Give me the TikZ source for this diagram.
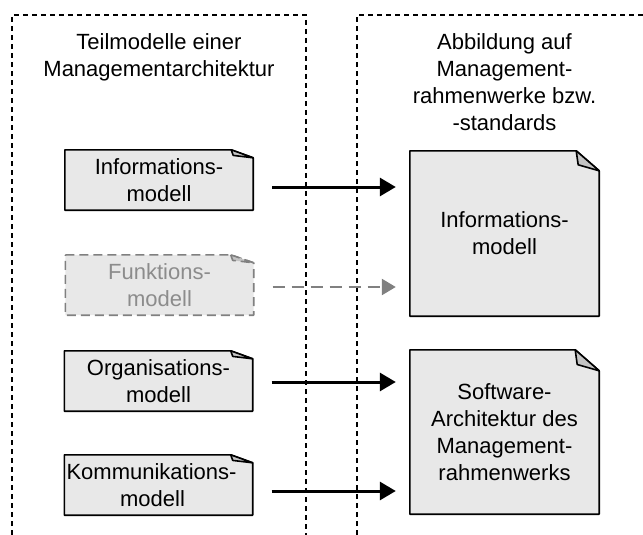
\documentclass[tikz,border=0pt]{standalone}
\usepackage{fontspec}
\setmainfont{Liberation Sans}
\usepackage{xcolor}
\usepackage{tikz}
\usetikzlibrary{arrows.meta,calc}
\definecolor{docfill}{HTML}{E8E8E8}
\definecolor{foldfill}{HTML}{C4C4C4}
\definecolor{faded}{HTML}{808080}
\definecolor{fadedtext}{HTML}{8C8C8C}
\pgfdeclarelayer{background}
\pgfsetlayers{background,main}
\tikzset{
  lane/.style={draw=black, line width=1.2pt, dash pattern=on 5pt off 4pt},
  title/.style={font=\fontsize{22}{27}\selectfont, align=center, inner sep=0pt, anchor=north},
  doc/.style={font=\fontsize{22}{27}\selectfont, align=center, inner sep=0pt},
  small/.style={doc, minimum width=188pt, minimum height=60pt},
  big/.style={doc, minimum width=189pt, minimum height=165pt},
  docline/.style={draw=black, fill=docfill, line width=1.6pt, line join=round},
  ghost/.style={draw=faded, dash pattern=on 9pt off 5pt},
  arr/.style={line width=3pt, -{Triangle[length=16pt,width=18pt]}},
  ghostarr/.style={draw=faded, line width=2.6pt, dash pattern=on 12pt off 7pt,
    -{Triangle[length=14pt,width=16pt]}}
}
% document outline with folded corner, drawn behind the node text
\newcommand{\docframe}[4][]{%
  \begin{pgfonlayer}{background}
    \path[docline,#1] (#2.north west) -- ([xshift=-#3pt]#2.north east)
      -- ([yshift=-#4pt]#2.north east) -- (#2.south east) -- (#2.south west) -- cycle;
    \path[docline,fill=foldfill,#1] ([xshift=-#3pt]#2.north east)
      -- ([xshift={-(#3-2)*1pt},yshift={-0.7*#4*1pt}]#2.north east)
      -- ([yshift=-#4pt]#2.north east) -- cycle;
  \end{pgfonlayer}}

\begin{document}
\begin{tikzpicture}[x=1pt,y=-1pt]
\useasboundingbox (0,0) rectangle (643,535);

% the two columns
\draw[lane] (12,535) -- (12,15) -- (306,15) -- (306,535);
\draw[lane] (357,535) -- (357,15) -- (643,15);

\node[title] (leftT) at (159,33) {Teilmodelle einer\\Managementarchitektur};
\node[title] (rightT) at (504.5,33) {Abbildung auf\\Management-\\rahmenwerke bzw.\\-standards};

% partial models
\node[small] (infoS) at (159,180) {Informations-\\modell};
\node[small, text=fadedtext] (funkS) at (159.5,285) {Funktions-\\modell};
\node[small] (orgS) at (158.5,381) {Organisations-\\modell};
\node[small] (kommS) at (158.5,485) {\hspace*{-14pt}Kommunikations-\\\hspace*{-12pt}modell};
\docframe{infoS}{22}{8}
\docframe[ghost]{funkS}{23}{8}
\docframe{orgS}{22}{8}
\docframe{kommS}{22}{8}

% mapping targets
\node[big] (infoB) at (504.5,233.5) {Informations-\\modell};
\node[big, minimum height=164pt] (softB) at (504.5,432) {Software-\\Architektur des\\Management-\\rahmenwerks};
\docframe{infoB}{23}{20}
\docframe{softB}{24}{21}

% mappings
\coordinate (m1) at ([yshift=-7pt]infoS.east);
\coordinate (m2) at ([yshift=-2pt]funkS.east);
\coordinate (m3) at ([yshift=-1pt]orgS.east);
\coordinate (m4) at ([yshift=-6pt]kommS.east);
\draw[arr, shorten <=19pt, shorten >=14pt] (m1) -- (m1 -| infoB.west);
\draw[ghostarr, shorten <=19pt, shorten >=14pt] (m2) -- (m2 -| infoB.west);
\draw[arr, shorten <=19pt, shorten >=14pt] (m3) -- (m3 -| softB.west);
\draw[arr, shorten <=19pt, shorten >=14pt] (m4) -- (m4 -| softB.west);
\end{tikzpicture}
\end{document}
